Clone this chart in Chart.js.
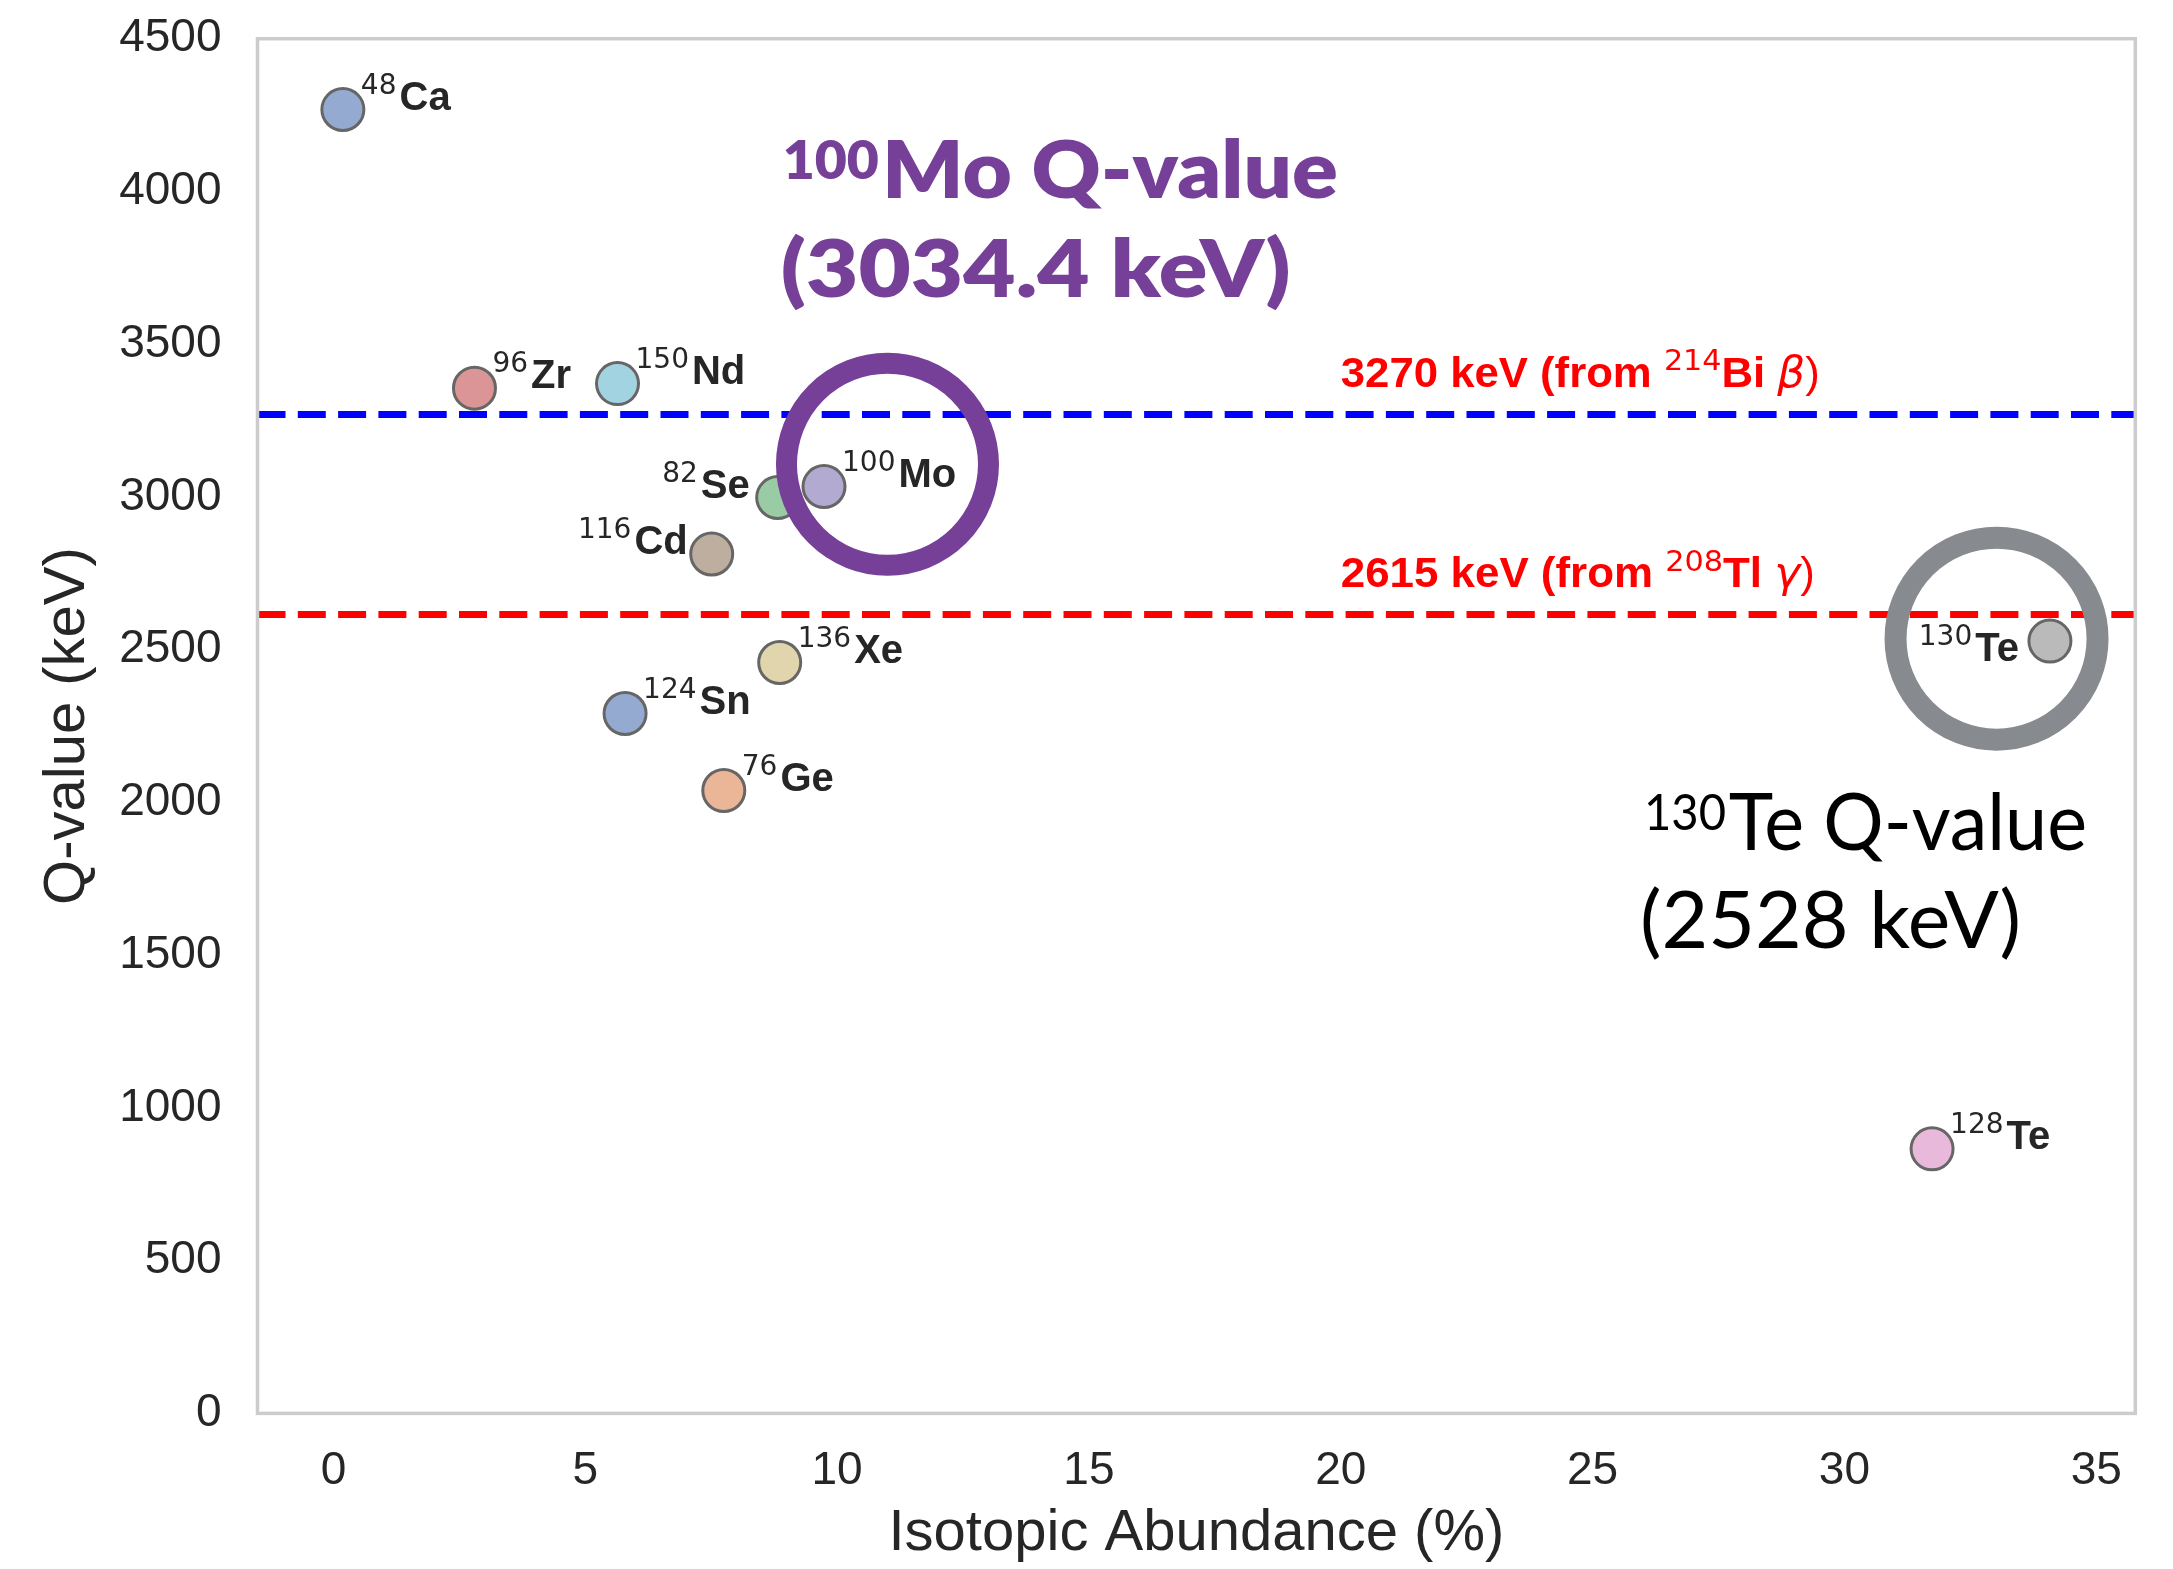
<!DOCTYPE html>
<html><head><meta charset="utf-8">
<script src="https://cdn.jsdelivr.net/npm/chart.js@4.4.1/dist/chart.umd.min.js"></script>
<style>html,body{margin:0;padding:0;background:#fff;}canvas{display:block;}</style>
</head><body>
<canvas id="c" width="2173" height="1569"></canvas>
<script>
// ---------------- data ----------------
const massNumbers = ['48','96','150','82','100','116','136','124','76','130','128'];
const elements    = ['Ca','Zr','Nd','Se','Mo','Cd','Xe','Sn','Ge','Te','Te'];
const abundance   = [0.187, 2.80, 5.64, 8.82, 9.74, 7.51, 8.86, 5.79, 7.75, 34.08, 31.74];
const qValues     = [4268, 3356, 3371, 2998, 3034, 2813, 2458, 2291, 2039, 2528, 866];

const bgEnergies = [3270, 2615];
const bgMass     = ['214', '208'];
const bgElement  = ['Bi', 'Tl'];
const bgDecay    = ['β', 'γ'];

const highlightMass    = ['100', '130'];
const highlightElement = ['Mo', 'Te'];
const highlightQ       = ['3034.4', '2528'];

const xTicks = [0, 5, 10, 15, 20, 25, 30, 35];
const yTicks = [0, 500, 1000, 1500, 2000, 2500, 3000, 3500, 4000, 4500];
const xLimits = [-1.508, 35.775];
const yLimits = [0, 4500];

const xTitle = 'Isotopic Abundance (%)';
const yTitle = 'Q-value (keV)';

// ---------------- styles / layout ----------------
const pointColors = ['#94AAD0','#DC9597','#A2D3E1','#99CBA4','#B3AAD1','#BEAEA0','#E0D5AC','#94AAD0','#EBB597','#BABABA','#E9B9DB'];
const bgLineColors = ['#0000ff', '#ff0000'];
const bgLabelWidths = [479, 474];
const TEXT = '#262626';
const SANS = "'Liberation Sans', Arial, sans-serif";
const DJV = "'DejaVu Sans', sans-serif";
// label placement per point index: [align, dx(px), dy(px)]
const labelPlace = {3: ['right', -28, 0], 5: ['right', -24, 0], 9: ['right', -31, 20]};
const annot = {
  rings: [{cx: 11.0, cy: 3107, r: 101, lw: 21, color: '#763f98'},
          {cx: 33.02, cy: 2536, r: 101, lw: 22, color: '#878a8e'}],
  texts: [
    {idx: 0, color: '#763f98', weight: 800, lines: [{x: 8.92, y: 3978, w: 555}, {x: 8.88, y: 3654, w: 510}], size: 80, sup: 52, rise: 19},
    {idx: 1, color: '#000000', weight: 400, lines: [{x: 26.02, y: 1844, w: 443}, {x: 25.94, y: 1523, w: 381}], size: 80, sup: 50, rise: 20}
  ]
};

function drawRun(ctx, segs, x, baseline, targetW, color) {
  let w = 0;
  segs.forEach(s => { ctx.font = s.font; s.w = ctx.measureText(s.t).width; w += s.w + (s.gap || 0); });
  const sx = targetW ? targetW / w : 1;
  ctx.save();
  ctx.translate(x, baseline);
  ctx.scale(sx, 1);
  ctx.fillStyle = color;
  ctx.textAlign = 'left';
  ctx.textBaseline = 'alphabetic';
  let cx = 0;
  segs.forEach(s => { ctx.font = s.font; ctx.fillText(s.t, cx, -(s.rise || 0)); cx += s.w + (s.gap || 0); });
  ctx.restore();
}

const overlayPlugin = {
  id: 'overlay',
  beforeDraw(chart) {
    const ctx = chart.ctx;
    ctx.save(); ctx.fillStyle = '#ffffff'; ctx.fillRect(0, 0, chart.width, chart.height); ctx.restore();
  },
  afterDatasetsDraw(chart) {
    const ctx = chart.ctx, xs = chart.scales.x, ys = chart.scales.y, a = chart.chartArea;
    // frame
    ctx.save();
    ctx.strokeStyle = '#cccccc'; ctx.lineWidth = 3.5;
    ctx.strokeRect(a.left, a.top, a.right - a.left, a.bottom - a.top);
    ctx.restore();
    // isotope labels
    const supF = '28px ' + DJV, elF = 'bold 40px ' + SANS;
    abundance.forEach((v, i) => {
      const px = xs.getPixelForValue(v), py = ys.getPixelForValue(qValues[i]);
      const pl = labelPlace[i] || ['left', 18, 0];
      ctx.font = supF; const w1 = ctx.measureText(massNumbers[i]).width;
      ctx.font = elF; const w2 = ctx.measureText(elements[i]).width;
      const gap = 3, total = w1 + gap + w2;
      const x0 = pl[0] === 'right' ? px + pl[1] - total : px + pl[1];
      drawRun(ctx, [{t: massNumbers[i], font: supF, rise: 16, gap: gap}, {t: elements[i], font: elF}], x0, py + pl[2], 0, TEXT);
    });
    // background line labels
    bgEnergies.forEach((e, i) => {
      const py = ys.getPixelForValue(e) - 27.5;
      const px = xs.getPixelForValue(20);
      drawRun(ctx, [
        {t: e + ' keV (from ', font: 'bold 42px ' + SANS},
        {t: bgMass[i], font: '29px ' + DJV, rise: 16.5},
        {t: bgElement[i] + ' ', font: 'bold 42px ' + SANS},
        {t: bgDecay[i], font: 'oblique 42px ' + DJV},
        {t: ')', font: '42px ' + SANS}
      ], px, py, bgLabelWidths[i], '#ff0000');
    });
    // rings
    annot.rings.forEach(r => {
      ctx.save();
      ctx.strokeStyle = r.color; ctx.lineWidth = r.lw;
      ctx.beginPath();
      ctx.arc(xs.getPixelForValue(r.cx), ys.getPixelForValue(r.cy), r.r, 0, Math.PI * 2);
      ctx.stroke();
      ctx.restore();
    });
    // big annotation texts
    annot.texts.forEach(t => {
      const i = t.idx;
      const fam = "Lato, 'Open Sans', sans-serif";
      const main = t.weight + ' ' + t.size + 'px ' + fam;
      const sup = t.weight + ' ' + t.sup + 'px ' + fam;
      const l1 = t.lines[0], l2 = t.lines[1];
      drawRun(ctx, [{t: highlightMass[i], font: sup, rise: t.rise, gap: 3}, {t: highlightElement[i] + ' Q-value', font: main}],
        xs.getPixelForValue(l1.x), ys.getPixelForValue(l1.y), l1.w, t.color);
      drawRun(ctx, [{t: '(' + highlightQ[i] + ' keV)', font: main}],
        xs.getPixelForValue(l2.x), ys.getPixelForValue(l2.y), l2.w, t.color);
    });
  }
};

function zeroPad(s) { s.paddingTop = 0; s.paddingBottom = 0; s.paddingLeft = 0; s.paddingRight = 0; }

const ctx = document.getElementById('c').getContext('2d');
new Chart(ctx, {
  type: 'scatter',
  data: {
    datasets: [
      {
        type: 'line', label: 'bg0',
        data: [{x: xLimits[0], y: bgEnergies[0]}, {x: xLimits[1], y: bgEnergies[0]}],
        borderColor: bgLineColors[0], borderWidth: 7, borderDash: [28, 12.3],
        pointRadius: 0, fill: false, clip: 0, order: 0
      },
      {
        type: 'line', label: 'bg1',
        data: [{x: xLimits[0], y: bgEnergies[1]}, {x: xLimits[1], y: bgEnergies[1]}],
        borderColor: bgLineColors[1], borderWidth: 7, borderDash: [28, 12.3],
        pointRadius: 0, fill: false, clip: 0, order: 0
      },
      {
        type: 'scatter', label: 'isotopes',
        data: abundance.map((x, i) => ({x: x, y: qValues[i]})),
        backgroundColor: pointColors, borderColor: '#666666', borderWidth: 3,
        pointRadius: 21, pointHoverRadius: 21, order: 1
      }
    ]
  },
  options: {
    responsive: false, devicePixelRatio: 1, animation: false, events: [],
    layout: {padding: {left: 0, top: 38.7, right: 37.7, bottom: 0}},
    plugins: {legend: {display: false}, tooltip: {enabled: false}},
    scales: {
      x: {
        type: 'linear', min: xLimits[0], max: xLimits[1],
        afterBuildTicks: s => { s.ticks = xTicks.map(v => ({value: v})); },
        afterFit: s => { s.height = 155.6; zeroPad(s); },
        grid: {display: false, drawTicks: false, tickLength: 0},
        border: {display: false},
        ticks: {font: {family: SANS, size: 46}, color: TEXT, padding: 30, autoSkip: false, maxRotation: 0,
                callback: v => String(v)},
        title: {display: true, text: xTitle, font: {family: SANS, size: 58}, color: TEXT, padding: {top: 0, bottom: 0}}
      },
      y: {
        type: 'linear', min: yLimits[0], max: yLimits[1],
        afterBuildTicks: s => { s.ticks = yTicks.map(v => ({value: v})); },
        afterFit: s => { s.width = 257.5; zeroPad(s); },
        grid: {display: false, drawTicks: false, tickLength: 0},
        border: {display: false},
        ticks: {font: {family: SANS, size: 46}, color: TEXT, padding: 36, autoSkip: false,
                callback: v => String(v)},
        title: {display: true, text: yTitle, font: {family: SANS, size: 58}, color: TEXT, padding: {top: 33, bottom: 0}}
      }
    }
  },
  plugins: [overlayPlugin]
});
</script>
</body></html>
